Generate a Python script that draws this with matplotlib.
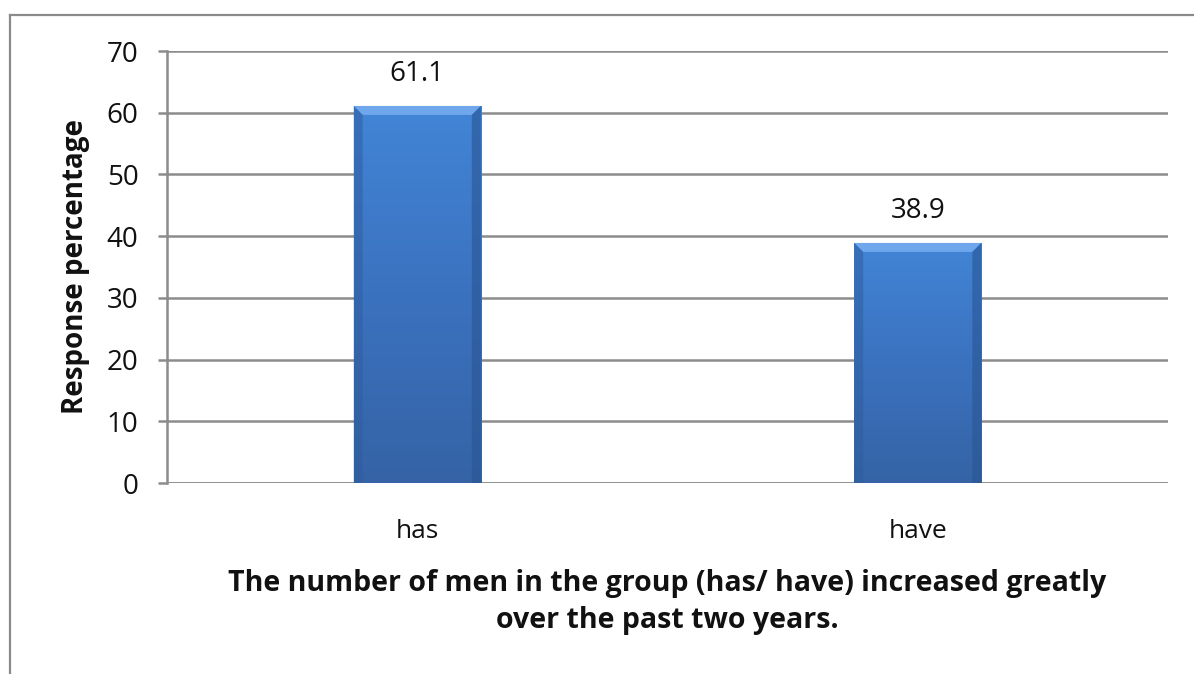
import numpy as np
import matplotlib
matplotlib.use("Agg")
import matplotlib.pyplot as plt
from matplotlib.lines import Line2D
from matplotlib.patches import Polygon
from matplotlib.colors import LinearSegmentedColormap

categories = ["has", "have"]
values = [61.1, 38.9]
y_ticks = [0, 10, 20, 30, 40, 50, 60, 70]
y_label = "Response percentage"
x_label = "The number of men in the group (has/ have) increased greatly\nover the past two years."

plt.rcParams["font.family"] = ["Open Sans", "DejaVu Sans"]

W, H = 1194, 674
fig = plt.figure(figsize=(W / 100, H / 100), dpi=100)
fig.patch.set_facecolor("white")

# outer frame (top and left edges)
frame_col = "#8a8a8a"
fig.add_artist(Line2D([10 / W, 1.0], [1 - 15 / H, 1 - 15 / H], color=frame_col, lw=1.6))
fig.add_artist(Line2D([10 / W, 10 / W], [1 - 15 / H, 0.0], color=frame_col, lw=1.6))

ax = fig.add_axes([167 / W, 1 - 483 / H, (1168 - 167) / W, (483 - 51) / H])
ax.set_xlim(-0.5, 1.5)
ax.set_ylim(0, 70)

grid_col = "#8c8c8c"
ax.set_yticks(y_ticks)
ax.yaxis.grid(True, color=grid_col, lw=1.8)
ax.set_axisbelow(True)
for s in ["top", "right", "bottom"]:
    ax.spines[s].set_visible(False)
ax.spines["left"].set_color(grid_col)
ax.spines["left"].set_linewidth(1.8)
ax.axhline(0, color=grid_col, lw=1.8, zorder=1)

ax.tick_params(axis="y", length=6.5, width=1.8, color=grid_col, pad=14,
               labelsize=20, labelcolor="#111111")
ax.tick_params(axis="x", length=0, pad=26, labelsize=19, labelcolor="#111111")

x = np.arange(len(categories))
bar_w = 0.254
bars = ax.bar(x, values, width=bar_w, color="#3b74c4", edgecolor="none", zorder=2)

ax.set_xticks(x)
ax.set_xticklabels(categories)

# vertical gradient inside each bar
cmap = LinearSegmentedColormap.from_list("barfill", ["#3563a6", "#3b72bf", "#4285d6"])
grad = np.linspace(0, 1, 256).reshape(-1, 1)
px_x = (1168 - 167) / 2.0      # pixels per x unit
px_y = (483 - 51) / 70.0       # pixels per y unit
bev_x = 9 / px_x
bev_y = 9 / px_y
for b in bars:
    x0, w, h = b.get_x(), b.get_width(), b.get_height()
    im = ax.imshow(grad, cmap=cmap, aspect="auto", origin="lower",
                   extent=[x0, x0 + w, 0, h], zorder=2.1, interpolation="bicubic")
    im.set_clip_path(b)
    # bevel: light top, darker sides
    ax.add_patch(Polygon([[x0, h], [x0 + w, h], [x0 + w - bev_x, h - bev_y], [x0 + bev_x, h - bev_y]],
                         closed=True, facecolor="#6fa6ec", edgecolor="none", zorder=2.2))
    ax.add_patch(Polygon([[x0, 0], [x0, h], [x0 + bev_x, h - bev_y], [x0 + bev_x, 0]],
                         closed=True, facecolor="#2f5e9e", edgecolor="none", alpha=0.55, zorder=2.2))
    ax.add_patch(Polygon([[x0 + w, 0], [x0 + w, h], [x0 + w - bev_x, h - bev_y], [x0 + w - bev_x, 0]],
                         closed=True, facecolor="#2a5593", edgecolor="none", alpha=0.6, zorder=2.2))
    ax.annotate(f"{h:.1f}", (x0 + w / 2, h), xytext=(0, 23), textcoords="offset points",
                ha="center", va="center", fontsize=20, color="#111111")

ax.set_ylabel(y_label, fontsize=20, fontweight="bold", labelpad=12, color="#111111")
ax.set_xlabel(x_label, fontsize=20.5, fontweight="bold", labelpad=18, color="#111111",
              linespacing=1.38)

fig.savefig("out.png", dpi=100, facecolor="white")
